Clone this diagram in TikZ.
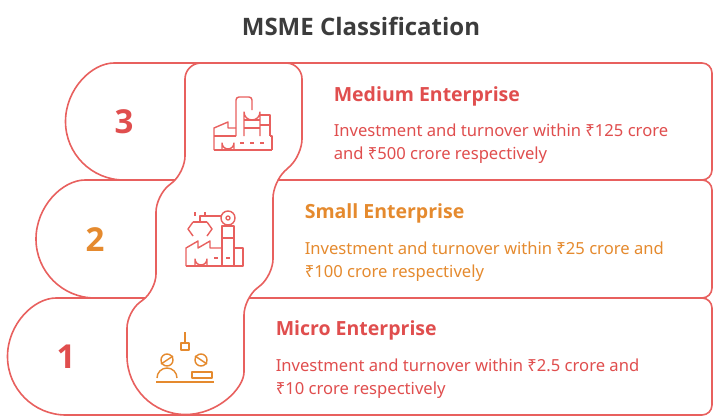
\documentclass[tikz,border=0pt]{standalone}
\usepackage{fontspec}
\setmainfont{Noto Sans}
\newfontfamily\boldfam{Open Sans}[UprightFont=*-Bold]
\definecolor{lred}{HTML}{E8605E}
\definecolor{tred}{HTML}{E04E4E}
\definecolor{torg}{HTML}{E58A2E}
\definecolor{ttl}{HTML}{3C3C3C}
\begin{document}
\begin{tikzpicture}[x=1pt,y=-1pt,line width=1.6pt,
  rowbox/.style={draw=lred,fill=white,line width=1.6pt},
  ico/.style={line width=1.4pt,line join=round},
  num/.style={font=\fontsize{33}{33}\boldfam,anchor=center},
  ttl/.style={font=\fontsize{19.5}{22}\boldfam,anchor=base west,inner sep=0},
  body/.style={font=\fontsize{16.6}{23.5}\selectfont,anchor=north west,inner sep=0,align=left}]
\useasboundingbox (0,0) rectangle (722,418);
\node[font=\fontsize{24}{26}\boldfam,text=ttl] (title) at (361,26) {MSME Classification};
% rows
\draw[rowbox] (124,63) arc[start angle=270,end angle=90,radius=58.5] [rounded corners=10] -- (712,180) -- (712,63) -- cycle;
\draw[rowbox] (95,180) arc[start angle=270,end angle=90,radius=59] [rounded corners=10] -- (712,298) -- (712,180) -- cycle;
\draw[rowbox] (66,298) arc[start angle=270,end angle=90,radius=58.5] [rounded corners=10] -- (712,415) -- (712,298) -- cycle;
% snake column
\draw[rowbox,rounded corners=16] (127,356) -- (127,312) -- (156,290) -- (156,196) -- (185,172) -- (185,63) -- (302,63) -- (302,155) -- (273,182) -- (273,275) -- (244,299) -- (244,356)
  [sharp corners] arc[start angle=0,end angle=180,radius=58.5] -- cycle;
% numbers
\node[num,text=tred] (n3) at (124,122) {3};
\node[num,text=torg] (n2) at (95,240) {2};
\node[num,text=tred] (n1) at (66,357) {1};
% texts
\node[ttl,text=tred] (t3) at (333,101) {Medium Enterprise};
\node[body,text=tred] (b3) at (333,123) {Investment and turnover within ₹125 crore\\and ₹500 crore respectively};
\node[ttl,text=torg] (t2) at (304,218) {Small Enterprise};
\node[body,text=torg] (b2) at (304,241) {Investment and turnover within ₹25 crore and\\₹100 crore respectively};
\node[ttl,text=tred] (t1) at (275,335) {Micro Enterprise};
\node[body,text=tred] (b1) at (275,358) {Investment and turnover within ₹2.5 crore and\\₹10 crore respectively};
% icon 3
\begin{scope}[ico,draw=lred]
\draw (214,150) -- (214,128) -- (228,122) -- (228,128) -- (236,128);
\draw (214,150) -- (272,150);
\draw (222,150) -- (222,143) arc[start angle=180,end angle=0,radius=6] -- (234,150);
\draw (240,143) -- (244,143) (250,143) -- (254,143) (260,143) -- (264,143);
\draw[rounded corners=3] (236,136) -- (236,97) -- (252,97) -- (252,110);
\draw (244,136) -- (244,112) arc[start angle=180,end angle=0,radius=8] -- (260,136);
\draw (244,120) -- (260,120) (244,128) -- (260,128);
\draw (260,115) -- (270,115) -- (270,136) (260,125) -- (270,125);
\draw (270,136) -- (272,136) -- (272,150);
\draw (236,136) -- (214,136);
\end{scope}
% icon 2
\begin{scope}[ico,draw=lred]
\draw (186,266) -- (186,248) -- (198,241) -- (198,248) -- (210,241) -- (210,248) -- (222,248);
\draw (186,266) -- (243,266) -- (243,248) -- (234,248);
\draw (195,266) -- (195,259) arc[start angle=180,end angle=0,radius=6] -- (207,266);
\draw (214,258) -- (218,258) (226,258) -- (230,258);
\draw (222,266) -- (222,226) -- (234,226) -- (234,266);
\draw (222,238) -- (234,238);
\draw (228,218) circle[radius=7];
\draw (228,218) circle[radius=2];
\draw (221,216) -- (200,216) -- (200,222);
\draw (193,222) -- (207,222);
\draw (193,222) -- (188,229) -- (193,236);
\draw (207,222) -- (212,229) -- (207,236);
\draw (195,212) -- (195,216) (205,212) -- (205,216);
\end{scope}
% icon 1
\begin{scope}[ico,draw=torg]
\draw (185,332) -- (185,342);
\draw (181,350) -- (181,343) -- (189,343) -- (189,350) -- cycle;
\draw (167,360) circle[radius=6];
\draw (201,360) circle[radius=6];
\draw (157,378) arc[start angle=180,end angle=360,radius=10];
\draw (192,372) -- (212,372) -- (212,378) -- (192,378) -- cycle;
\draw (156,382) -- (214,382);
\draw (161,364) -- (173,356) (195,356) -- (207,364);
\end{scope}
\end{tikzpicture}
\end{document}
